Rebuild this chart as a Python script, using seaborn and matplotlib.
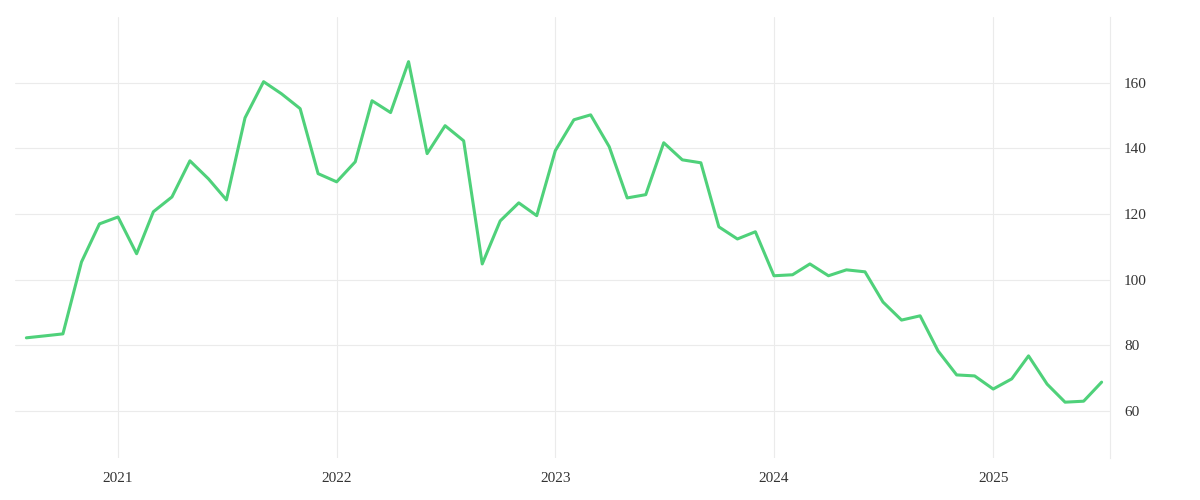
import pandas as pd
import matplotlib
matplotlib.use("Agg")
import matplotlib.pyplot as plt
import matplotlib.dates as mdates
import seaborn as sns

dates = pd.date_range("2020-08-01", "2025-07-01", freq="MS")
values = [82.3, 82.9, 83.5, 105.4, 117.0,
          119.1, 107.9, 120.7, 125.2, 136.2, 130.7, 124.3, 149.3, 160.3, 156.6, 152.1, 132.3,
          129.8, 135.9, 154.5, 150.9, 166.4, 138.4, 146.9, 142.3, 104.8, 117.9, 123.4, 119.5,
          139.3, 148.7, 150.2, 140.5, 124.9, 125.9, 141.7, 136.5, 135.6, 116.1, 112.4, 114.6,
          101.2, 101.5, 104.8, 101.2, 103.0, 102.4, 93.2, 87.7, 89.0, 78.3, 71.0, 70.7,
          66.7, 69.8, 76.8, 68.2, 62.7, 63.0, 68.8]
df = pd.DataFrame({"date": dates, "value": values})

sns.set_style("white")
plt.rcParams['font.family'] = ['Liberation Serif', 'DejaVu Serif']

fig = plt.figure(figsize=(12, 5), dpi=100)
ax = fig.add_axes([15/1200, 42/500, 1095/1200, 441/500])
sns.lineplot(data=df, x="date", y="value", ax=ax, color="#4fd17a", linewidth=2.2)

ax.set_xlim(pd.Timestamp("2020-07-13"), pd.Timestamp("2025-07-15"))
ax.set_ylim(45.7, 180)
ax.set_yticks([60, 80, 100, 120, 140, 160])
ax.yaxis.tick_right()
ax.xaxis.set_major_locator(mdates.YearLocator())
ax.xaxis.set_major_formatter(mdates.DateFormatter('%Y'))
ax.grid(True, color="#ebebeb", linewidth=0.8)
ax.tick_params(length=0, labelsize=11, colors="#333333", pad=10)
ax.set_xlabel("")
ax.set_ylabel("")
for s in ["left", "top", "bottom"]:
    ax.spines[s].set_visible(False)
ax.spines["right"].set_color("#ebebeb")
fig.savefig("out.png")
